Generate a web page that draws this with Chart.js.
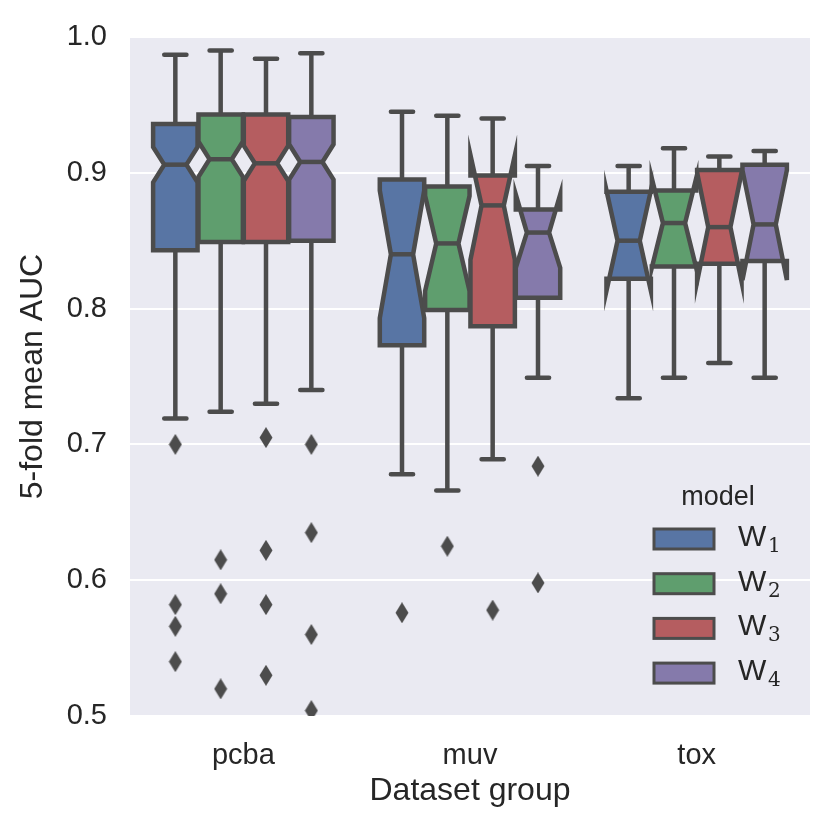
<!DOCTYPE html>
<html>
<head>
<meta charset="utf-8">
<script src="https://cdn.jsdelivr.net/npm/chart.js@4.4.1/dist/chart.umd.min.js"></script>
<style>
html, body { margin: 0; padding: 0; background: #fff; }
#wrap { width: 832px; height: 833px; }
</style>
</head>
<body>
<div id="wrap"><canvas id="chart" width="832" height="833"></canvas></div>
<script>
// categories and hue levels
const categories = ['pcba', 'muv', 'tox'];
const models = ['W', 'W', 'W', 'W'];
const modelSubs = ['1', '2', '3', '4'];
const yTicks = [0.5, 0.6, 0.7, 0.8, 0.9, 1.0];

// one row per model (W1..W4), one value per category (pcba, muv, tox)
const whiskerHigh = [
  [0.987, 0.945, 0.905],
  [0.990, 0.942, 0.918],
  [0.984, 0.940, 0.912],
  [0.988, 0.905, 0.916]
];
const q3 = [
  [0.936, 0.895, 0.886],
  [0.943, 0.890, 0.887],
  [0.943, 0.898, 0.902],
  [0.941, 0.873, 0.906]
];
const notchHigh = [
  [0.919, 0.887, 0.887],
  [0.923, 0.883, 0.896],
  [0.920, 0.913, 0.900],
  [0.921, 0.884, 0.902]
];
const median = [
  [0.906, 0.840, 0.850],
  [0.910, 0.848, 0.863],
  [0.907, 0.876, 0.860],
  [0.908, 0.856, 0.862]
];
const notchLow = [
  [0.893, 0.793, 0.813],
  [0.897, 0.813, 0.830],
  [0.894, 0.836, 0.820],
  [0.895, 0.830, 0.821]
];
const q1 = [
  [0.843, 0.773, 0.822],
  [0.849, 0.799, 0.831],
  [0.849, 0.787, 0.833],
  [0.850, 0.808, 0.835]
];
const whiskerLow = [
  [0.719, 0.678, 0.734],
  [0.724, 0.666, 0.749],
  [0.730, 0.689, 0.760],
  [0.740, 0.749, 0.749]
];
// outliers: per model, per category
const fliers = [
  [[0.700, 0.582, 0.566, 0.540], [0.576], []],
  [[0.615, 0.590, 0.520], [0.625], []],
  [[0.705, 0.622, 0.582, 0.530], [0.578], []],
  [[0.700, 0.635, 0.560, 0.504], [0.684, 0.598], []]
];

const modelColors = ['#5875a4', '#5f9e6e', '#b55d60', '#857aab'];
const lineGray = '#4c4c4c';
const textColor = '#262626';
const hueOffsets = [-0.3, -0.1, 0.1, 0.3];
const boxWidth = 0.196;
const LW = 4.5;
const SANS = '"Liberation Sans", Arial, Helvetica, sans-serif';

Chart.defaults.font.family = SANS;
Chart.defaults.color = textColor;

// thin diamond marker for outliers
const diamond = document.createElement('canvas');
diamond.width = 14; diamond.height = 21;
(function () {
  const c = diamond.getContext('2d');
  c.fillStyle = lineGray;
  c.beginPath();
  c.moveTo(7, 0); c.lineTo(13.5, 10.5); c.lineTo(7, 21); c.lineTo(0.5, 10.5);
  c.closePath();
  c.fill();
})();

const flierSets = models.map((m, mi) => ({
  type: 'scatter',
  label: m + modelSubs[mi],
  data: fliers[mi].flatMap((vals, gi) => vals.map(v => ({ x: gi + hueOffsets[mi], y: v }))),
  pointStyle: diamond,
  pointRadius: 10,
  backgroundColor: lineGray,
  borderColor: lineGray,
  clip: 0
}));

const boxPlugin = {
  id: 'notchedBoxes',
  beforeDraw(chart) {
    const { ctx, chartArea: a } = chart;
    ctx.save();
    ctx.fillStyle = '#eaeaf2';
    ctx.fillRect(a.left, a.top, a.right - a.left, a.bottom - a.top);
    ctx.restore();
  },
  beforeDatasetsDraw(chart) {
    const { ctx, scales: { x, y } } = chart;
    const unit = x.getPixelForValue(1) - x.getPixelForValue(0);
    const hw = unit * boxWidth / 2;
    const nw = hw / 2;
    ctx.save();
    ctx.lineWidth = LW;
    ctx.strokeStyle = lineGray;
    models.forEach((m, mi) => {
      categories.forEach((c, gi) => {
        const cx = x.getPixelForValue(gi + hueOffsets[mi]);
        const pq1 = y.getPixelForValue(q1[mi][gi]);
        const pq3 = y.getPixelForValue(q3[mi][gi]);
        const pmed = y.getPixelForValue(median[mi][gi]);
        const pnl = y.getPixelForValue(notchLow[mi][gi]);
        const pnh = y.getPixelForValue(notchHigh[mi][gi]);
        const pwl = y.getPixelForValue(whiskerLow[mi][gi]);
        const pwh = y.getPixelForValue(whiskerHigh[mi][gi]);
        // whiskers and caps
        ctx.lineCap = 'round';
        ctx.beginPath();
        ctx.moveTo(cx, pq3); ctx.lineTo(cx, pwh);
        ctx.moveTo(cx, pq1); ctx.lineTo(cx, pwl);
        ctx.moveTo(cx - hw / 2, pwh); ctx.lineTo(cx + hw / 2, pwh);
        ctx.moveTo(cx - hw / 2, pwl); ctx.lineTo(cx + hw / 2, pwl);
        ctx.stroke();
        // notched box
        ctx.lineCap = 'butt';
        ctx.lineJoin = 'miter';
        ctx.miterLimit = 10;
        ctx.beginPath();
        ctx.moveTo(cx - hw, pq1);
        ctx.lineTo(cx - hw, pnl);
        ctx.lineTo(cx - nw, pmed);
        ctx.lineTo(cx - hw, pnh);
        ctx.lineTo(cx - hw, pq3);
        ctx.lineTo(cx + hw, pq3);
        ctx.lineTo(cx + hw, pnh);
        ctx.lineTo(cx + nw, pmed);
        ctx.lineTo(cx + hw, pnl);
        ctx.lineTo(cx + hw, pq1);
        ctx.closePath();
        ctx.fillStyle = modelColors[mi];
        ctx.fill();
        ctx.stroke();
        // median
        ctx.beginPath();
        ctx.moveTo(cx - nw, pmed); ctx.lineTo(cx + nw, pmed);
        ctx.stroke();
      });
    });
    ctx.restore();
  },
  afterDraw(chart) {
    // legend drawn inside the plot, lower right
    const { ctx } = chart;
    ctx.save();
    ctx.fillStyle = textColor;
    ctx.textAlign = 'center';
    ctx.textBaseline = 'alphabetic';
    ctx.font = '27px ' + SANS;
    ctx.fillText('model', 718, 505);
    models.forEach((m, mi) => {
      const cy = 539 + mi * 44.7;
      ctx.fillStyle = modelColors[mi];
      ctx.strokeStyle = lineGray;
      ctx.lineWidth = 3;
      ctx.fillRect(654, cy - 10, 60, 20);
      ctx.strokeRect(654, cy - 10, 60, 20);
      ctx.fillStyle = textColor;
      ctx.textAlign = 'left';
      ctx.font = '30px ' + SANS;
      ctx.fillText(m, 738, cy + 7);
      ctx.font = '20px "DejaVu Serif", "Liberation Serif", serif';
      ctx.fillText(modelSubs[mi], 768, cy + 13);
    });
    ctx.restore();
  }
};

new Chart(document.getElementById('chart'), {
  type: 'scatter',
  data: { datasets: flierSets },
  options: {
    responsive: false,
    animation: false,
    devicePixelRatio: 1,
    layout: { padding: { top: 37, right: 22, left: 0, bottom: 0 } },
    plugins: {
      legend: { display: false },
      tooltip: { enabled: false }
    },
    scales: {
      x: {
        type: 'linear',
        min: -0.5,
        max: 2.5,
        afterBuildTicks: function (scale) {
          scale.ticks = categories.map((c, i) => ({ value: i }));
        },
        afterFit: function (scale) { scale.height = 117; },
        ticks: {
          padding: 15,
          font: { size: 29 },
          color: textColor,
          callback: function (value) { return categories[value]; }
        },
        grid: { display: false },
        border: { display: false },
        title: {
          display: true,
          text: 'Dataset group',
          font: { size: 32 },
          color: textColor,
          padding: { top: 0, bottom: 23 }
        }
      },
      y: {
        type: 'linear',
        min: 0.5,
        max: 1.0,
        afterBuildTicks: function (scale) {
          scale.ticks = yTicks.map(v => ({ value: v }));
        },
        afterFit: function (scale) {
          scale.width = 130;
          scale.paddingTop = 0;
          scale.paddingBottom = 0;
        },
        ticks: {
          padding: 23,
          font: { size: 29 },
          color: textColor,
          callback: function (value) { return value.toFixed(1); }
        },
        grid: { color: '#ffffff', lineWidth: 2, drawTicks: false },
        border: { display: false },
        title: {
          display: true,
          text: '5-fold mean AUC',
          font: { size: 32 },
          color: textColor,
          padding: { top: 14, bottom: 0 }
        }
      }
    }
  },
  plugins: [boxPlugin]
});
</script>
</body>
</html>
